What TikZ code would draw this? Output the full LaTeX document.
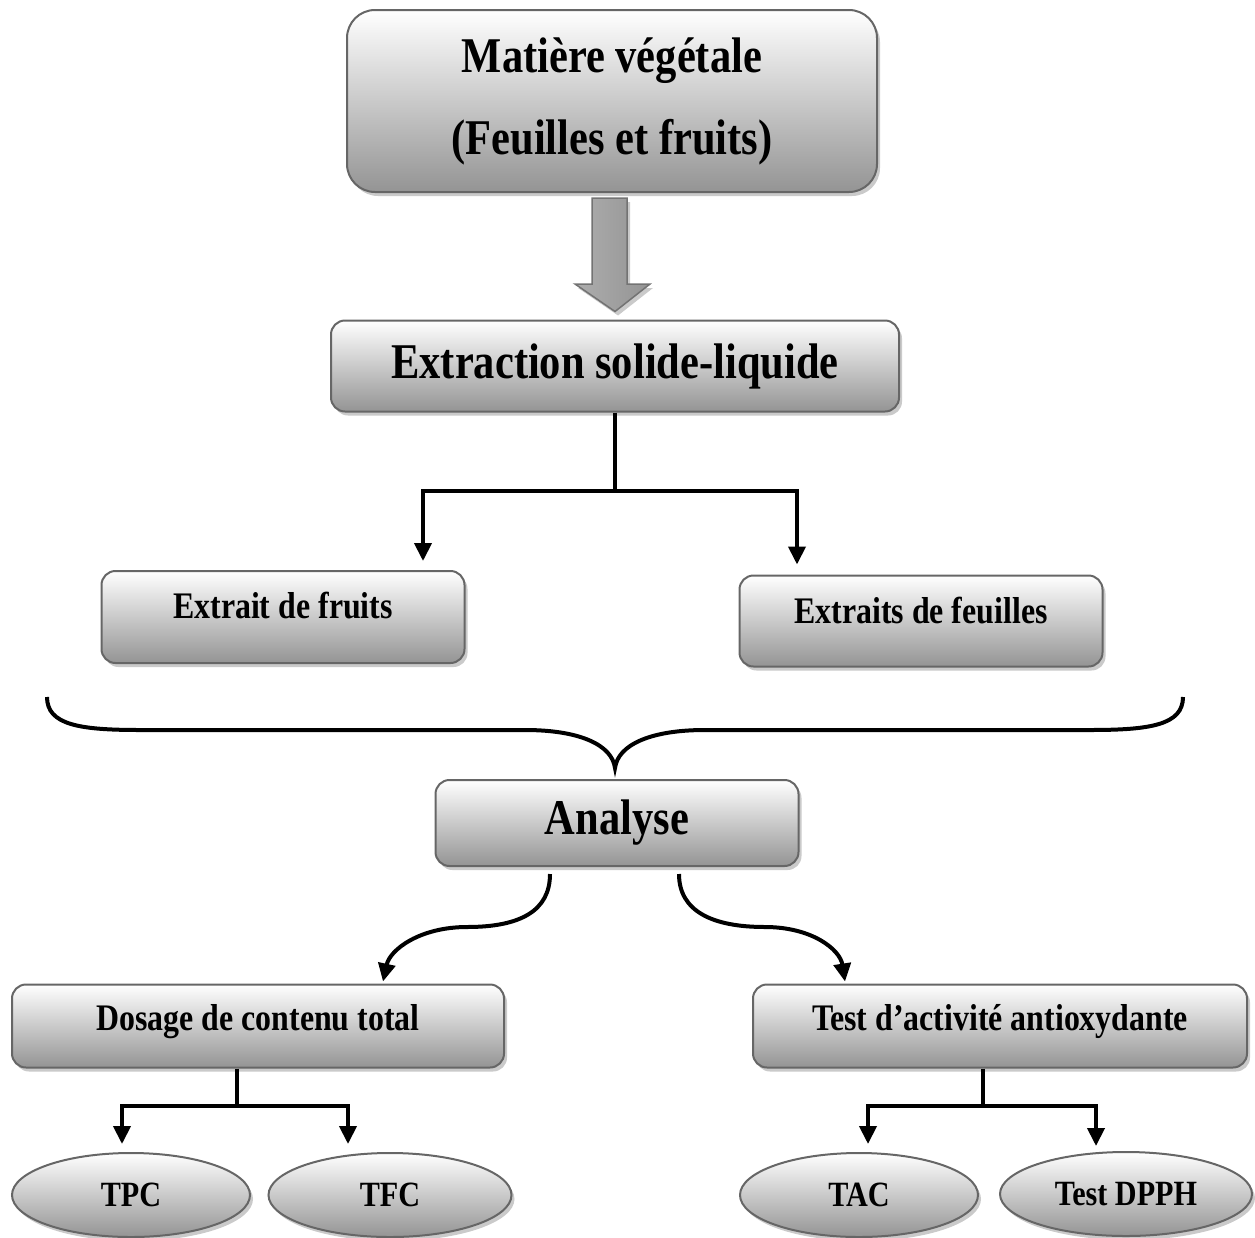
\documentclass[tikz,border=0pt]{standalone}
\usepackage{fontspec}
\setmainfont{Liberation Serif}[FakeStretch=0.85]
\usetikzlibrary{shapes.geometric,shadows,arrows.meta,calc}

\tikzset{
  shade/.style={draw=black!60, line width=2pt, top color=white, bottom color=black!42,
    drop shadow={shadow xshift=3pt, shadow yshift=-4pt, fill=black!35, opacity=0.6}},
  box/.style={shade, rounded corners=14pt, inner sep=0pt},
  bigtext/.style={font=\bfseries\fontsize{50}{82}\selectfont},
  smalltext/.style={font=\bfseries\fontsize{37.5}{42}\selectfont},
  oval/.style={shade, ellipse, inner sep=0pt, font=\bfseries\fontsize{35.5}{40}\selectfont},
  link/.style={line width=4pt, -{Triangle[length=18pt,width=17pt]}},
}

\begin{document}
\begin{tikzpicture}[x=1pt,y=-1pt]
    \useasboundingbox (0,0) rectangle (1255,1237);

    \node[box,bigtext,rounded corners=28pt,align=center,minimum width=530pt,minimum height=182pt] (mat) at (612,101)
        {Mati\`ere v\'eg\'etale\\(Feuilles et fruits)};
    \node[box,bigtext,minimum width=568pt,minimum height=91pt] (ext) at (615,366) {Extraction solide-liquide};

    % block arrow
    \filldraw[draw=black!55, line width=1.5pt, left color=black!32, middle color=black!8, right color=black!42,
        drop shadow={shadow xshift=3pt, shadow yshift=-4pt, fill=black!35, opacity=0.6}]
        ($(mat.south)+(-20,5)$) -- ++(35,0) -- ++(0,86) -- ++(23,0) -- ($(ext.north)+(0,-8)$)
        -- ($(mat.south)+(-37,91)$) -- ++(17,0) -- cycle;

    \node[box,smalltext,minimum width=363pt,minimum height=92pt,text depth=24pt] (fru) at (283,617) {Extrait de fruits};
    \node[box,smalltext,minimum width=363pt,minimum height=91pt,text depth=22pt] (feu) at (921,621) {Extraits de feuilles};

    \node[box,bigtext,minimum width=363pt,minimum height=86pt] (ana) at (617,823) {Analyse};

    \node[box,smalltext,minimum width=492pt,minimum height=83pt,text depth=18pt] (dos) at (258,1026) {Dosage de contenu total};
    \node[box,smalltext,minimum width=494pt,minimum height=83pt,text depth=18pt] (tst) at (1000,1026) {Test d'activit\'e antioxydante};

    \node[oval,minimum width=238pt,minimum height=84pt] (tpc) at (131,1195) {TPC};
    \node[oval,minimum width=243pt,minimum height=84pt] (tfc) at (390,1195) {TFC};
    \node[oval,minimum width=238pt,minimum height=84pt] (tac) at (859,1195) {TAC};
    \node[oval,minimum width=252pt,minimum height=84pt] (dph) at (1126,1194) {Test DPPH};

    \draw[link] (ext.south) -- ++(0,78) coordinate (ej) -| ($(fru.north)+(140,-9)$);
    \draw[link] (ej) -| ($(feu.north)+(-124,-10)$);

    \draw[line width=4pt] (47,697) .. controls (47,725) and (80,730) .. (140,730) -- (525,730)
        .. controls (580,730) and (612,745) .. (615,768)
        .. controls (618,745) and (650,730) .. (705,730) -- (1090,730)
        .. controls (1150,730) and (1183,725) .. (1183,697);

    \draw[link] ($(ana.south)+(-67,7)$) .. controls +(0,37) and +(53,0) .. (467,927)
        .. controls +(-47,0) and +(7,-32) .. ($(dos.north)+(125,-2)$);
    \draw[link] ($(ana.south)+(62,7)$) .. controls +(0,37) and +(-53,0) .. (765,927)
        .. controls +(47,0) and +(-5,-32) .. ($(tst.north)+(-155,-2)$);

    \draw[link] ([xshift=-21pt]dos.south) -- ++(0,37) coordinate (dj) -| ($(tpc.north)+(-9,-8)$);
    \draw[link] (dj) -| ($(tfc.north)+(-42,-8)$);

    \draw[link] ([xshift=-17pt]tst.south) -- ++(0,37) coordinate (tj) -| ($(tac.north)+(9,-8)$);
    \draw[link] (tj) -| ($(dph.north)+(-30,-5)$);
\end{tikzpicture}
\end{document}
